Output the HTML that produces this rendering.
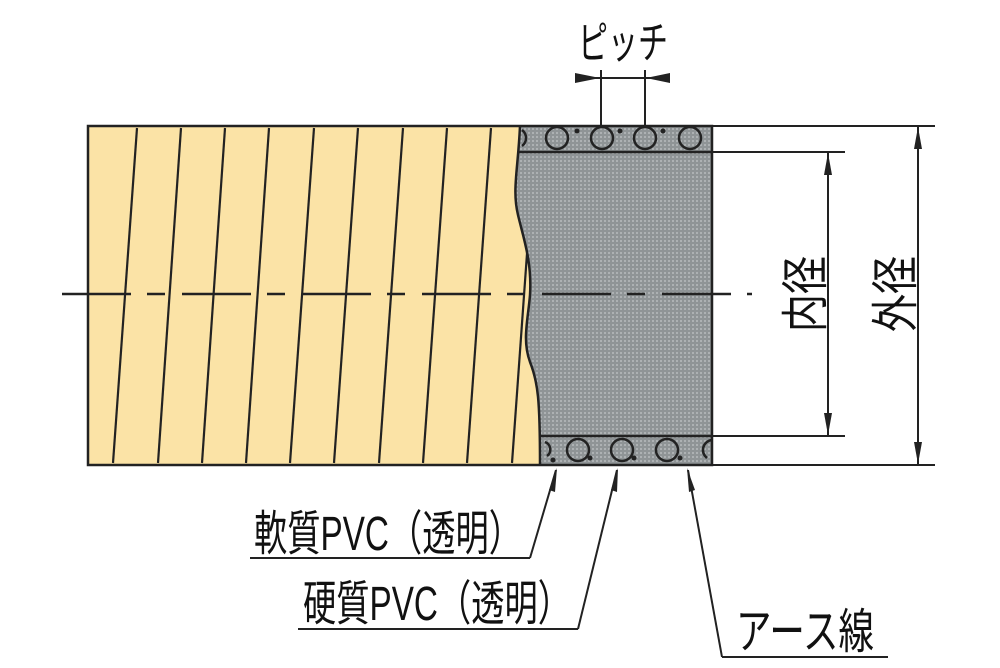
<!DOCTYPE html>
<html><head><meta charset="utf-8"><style>html,body{margin:0;padding:0;background:#fff}svg{display:block}</style></head>
<body>
<svg width="1000" height="668" viewBox="0 0 1000 668" xmlns="http://www.w3.org/2000/svg" font-family="Liberation Sans, Noto Sans CJK JP, sans-serif">
<defs>
<pattern id="g" width="4" height="4" patternUnits="userSpaceOnUse">
<rect width="4" height="4" fill="#8f9496"/>
<rect width="2" height="2" fill="#adb1b3"/>
</pattern>
<clipPath id="yc"><path d="M88,126 L520,126 C518,170 512,190 518,215 C524,240 532,262 530,295 C528,320 522,340 530,362 C538,382 540,400 540,465 L88,465 Z"/></clipPath>
</defs>
<rect x="505" y="126" width="207" height="339" fill="url(#g)"/>
<path d="M88,126 L520,126 C518,170 512,190 518,215 C524,240 532,262 530,295 C528,320 522,340 530,362 C538,382 540,400 540,465 L88,465 Z" fill="#fbe3a6"/>
<g clip-path="url(#yc)" stroke="#222" stroke-width="2.2">
<line x1="137" y1="128" x2="113" y2="463"/><line x1="181" y1="128" x2="158" y2="463"/>
<line x1="225" y1="128" x2="202" y2="463"/><line x1="269" y1="128" x2="246" y2="463"/>
<line x1="314" y1="128" x2="290" y2="463"/><line x1="358" y1="128" x2="334" y2="463"/>
<line x1="403" y1="128" x2="379" y2="463"/><line x1="447" y1="128" x2="423" y2="463"/>
<line x1="491" y1="128" x2="467" y2="463"/><line x1="536" y1="128" x2="512" y2="463"/>
</g>
<path d="M520,126 C518,170 512,190 518,215 C524,240 532,262 530,295 C528,320 522,340 530,362 C538,382 540,400 540,465" fill="none" stroke="#222" stroke-width="2.5"/>
<g stroke="#222" stroke-width="2.5" fill="none">
<line x1="518" y1="152" x2="712" y2="152"/>
<line x1="540" y1="436" x2="712" y2="436"/>
<circle cx="557" cy="138" r="11"/><circle cx="602" cy="138" r="11"/><circle cx="645" cy="138" r="11"/><circle cx="690" cy="138" r="11"/>
<path d="M522,130 a10,10 0 0 1 0,16"/>
<circle cx="578" cy="450" r="11"/><circle cx="622" cy="450" r="11"/><circle cx="667" cy="450" r="11"/>
<path d="M712,440 a10,10 0 0 0 -5,18"/>
<path d="M545,442 a8,8 0 0 1 2,14"/>
</g>
<g fill="#222"><circle cx="590" cy="458" r="2.5"/><circle cx="634" cy="458" r="2.5"/><circle cx="680" cy="458" r="2.5"/><circle cx="553" cy="460" r="2.5"/>
<circle cx="577" cy="131" r="2.5"/><circle cx="620" cy="131" r="2.5"/><circle cx="663" cy="131" r="2.5"/></g>
<rect x="88" y="126" width="624" height="339" fill="none" stroke="#222" stroke-width="2.5"/>
<line x1="62" y1="294" x2="752" y2="294" stroke="#222" stroke-width="2.5" stroke-dasharray="69 16 18 17"/>
<g stroke="#222" stroke-width="2">
<line x1="712" y1="126" x2="935" y2="126"/><line x1="712" y1="465" x2="935" y2="465"/>
<line x1="712" y1="152" x2="845" y2="152"/><line x1="712" y1="436" x2="845" y2="436"/>
<line x1="828" y1="152" x2="828" y2="436"/><line x1="918" y1="126" x2="918" y2="465"/>
<line x1="601" y1="70" x2="601" y2="126"/><line x1="645" y1="70" x2="645" y2="126"/>
<line x1="575" y1="78" x2="670" y2="78"/>
<line x1="530" y1="558" x2="250" y2="558"/><line x1="530" y1="558" x2="556" y2="470"/>
<line x1="578" y1="629" x2="298" y2="629"/><line x1="578" y1="629" x2="617" y2="470"/>
<line x1="722" y1="657" x2="888" y2="657"/><line x1="722" y1="657" x2="688" y2="470"/>
</g>
<g fill="#222">
<path d="M828,153 l-4,22 l8,0 z"/><path d="M828,435 l-4,-22 l8,0 z"/>
<path d="M918,127 l-4,22 l8,0 z"/><path d="M918,464 l-4,-22 l8,0 z"/>
<path d="M575,73 L600,78 L575,83 z"/><path d="M670,73 L646,78 L670,83 z"/>
<path d="M557,468 l-2,24 l-6,-2 z"/><path d="M618,468 l-1,24 l-6,-2 z"/><path d="M687,468 l8,22 l-6,2 z"/>
</g>
<g fill="#111" font-size="48">
<text x="578" y="58" font-size="44" textLength="90" lengthAdjust="spacingAndGlyphs">ピッチ</text>
<text x="254" y="550" textLength="268" lengthAdjust="spacingAndGlyphs">軟質PVC（透明）</text>
<text x="303" y="620" textLength="268" lengthAdjust="spacingAndGlyphs">硬質PVC（透明）</text>
<text x="736" y="648" textLength="138" lengthAdjust="spacingAndGlyphs">アース線</text>
<text transform="translate(822,332) rotate(-90)" font-size="48" textLength="76" lengthAdjust="spacingAndGlyphs">内径</text>
<text transform="translate(912,332) rotate(-90)" font-size="48" textLength="76" lengthAdjust="spacingAndGlyphs">外径</text>
</g>
</svg>
</body></html>
